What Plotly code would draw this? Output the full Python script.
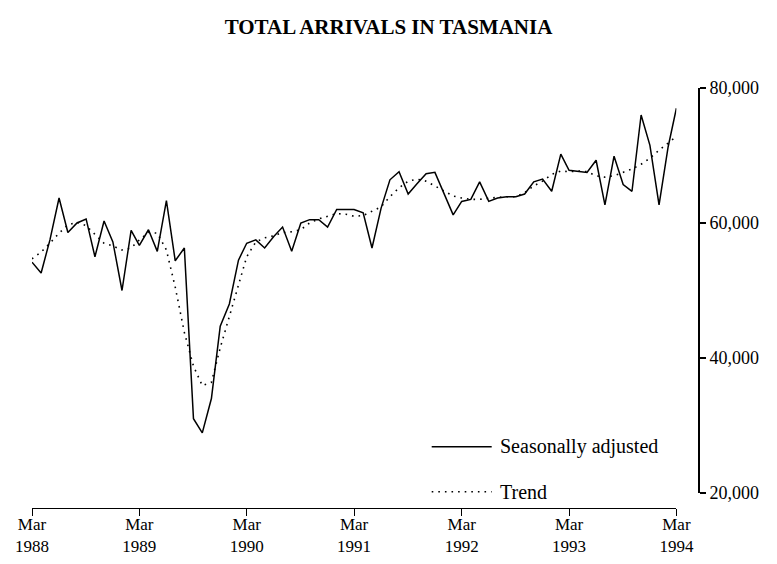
import pandas as pd
import plotly.graph_objects as go

# ---- data ----
months = pd.date_range("1988-03-01", periods=73, freq="MS")

seasonally_adjusted = [
    54200, 52600, 57500, 63700, 58600, 60000, 60600, 55000, 60300, 57200,
    50000, 58900, 56700, 59000, 55800, 63300, 54400, 56300, 31000, 28900,
    34000, 44700, 48000, 54500, 57000, 57500, 56300, 58000, 59400, 55800,
    60000, 60500, 60500, 59400, 62000, 62000, 62000, 61500, 56300, 62200,
    66400, 67600, 64300, 65800, 67300, 67500, 64300, 61200, 63200, 63500,
    66100, 63200, 63700, 63900, 63900, 64300, 66100, 66500, 64700, 70200,
    67800, 67700, 67500, 69300, 62700, 69900, 65700, 64700, 76000, 71500,
    62700, 71300, 77000,
]

trend = [
    54700, 55700, 57000, 58500, 59700, 60100, 59600, 58300, 57000, 56600,
    56000, 56300, 57500, 58600, 58500, 56000, 50500, 43800, 38800, 35900,
    36400, 41500, 46000, 50800, 55000, 57200, 57800, 58100, 58600, 58700,
    59000, 60000, 60600, 61000, 61400, 61300, 61000, 61100, 61700, 62400,
    63900, 65200, 66200, 66500, 66200, 65500, 64700, 64000, 63700, 63500,
    63500, 63700, 63800, 63900, 63900, 64500, 65500, 66200, 67200, 67700,
    67600, 67700, 67600, 67000, 66800, 67000, 67500, 68000, 68700, 69600,
    70800, 71800, 72800,
]

tick_dates = ["1988-03-01", "1989-03-01", "1990-03-01", "1991-03-01",
              "1992-03-01", "1993-03-01", "1994-03-01"]
tick_labels = ["Mar<br>1988", "Mar<br>1989", "Mar<br>1990", "Mar<br>1991",
               "Mar<br>1992", "Mar<br>1993", "Mar<br>1994"]
y_ticks = [20000, 40000, 60000, 80000]

series_names = ["Seasonally adjusted", "Trend"]

SERIF = "Liberation Serif, Times New Roman, serif"

fig = go.Figure()
fig.add_trace(go.Scatter(
    x=months, y=seasonally_adjusted, mode="lines", name=series_names[0],
    line=dict(color="black", width=1.5), showlegend=False,
))
fig.add_trace(go.Scatter(
    x=months, y=trend, mode="lines", name=series_names[1],
    line=dict(color="black", width=1.6, dash="1.6px,5px"), showlegend=False,
))

# plot-area geometry (pixels)
L, R, T, B = 32.3, 699.3, 88.0, 508.3
W, H = R - L, B - T
x_end = (676.7 - L) / W
y_start = (B - 493.3) / H

def px(x):
    return (x - L) / W

def py(y):
    return (B - y) / H

# legend drawn as sample lines + text
legend_rows = [(447, "solid"), (492, "1.6px,5px")]
for (yy, dash), name in zip(legend_rows, series_names):
    fig.add_shape(type="line", xref="paper", yref="paper",
                  x0=px(432), x1=px(492), y0=py(yy), y1=py(yy),
                  line=dict(color="black", width=1.5 if dash == "solid" else 1.6, dash=dash))
    fig.add_annotation(xref="paper", yref="paper", x=px(498), y=py(yy),
                       xanchor="left", yanchor="middle", showarrow=False,
                       text=name, font=dict(family=SERIF, size=20, color="black"))

fig.update_layout(
    width=777, height=564,
    autosize=False,
    margin=dict(l=L, r=777 - R, t=T, b=564 - B, pad=0, autoexpand=False),
    paper_bgcolor="white", plot_bgcolor="white",
    title=dict(text="<b>TOTAL ARRIVALS IN TASMANIA</b>", xref="container", x=0.5,
               xanchor="center", yref="container", y=1 - 27 / 564, yanchor="middle",
               font=dict(family=SERIF, size=21, color="black")),
    xaxis=dict(
        domain=[0, x_end], anchor="free", position=0, automargin=False,
        range=[months[0], months[-1]],
        tickmode="array", tickvals=tick_dates, ticktext=tick_labels,
        ticks="outside", ticklen=7, tickwidth=1.3, tickcolor="black",
        ticklabelstandoff=-7,
        showline=True, linecolor="black", linewidth=1.3,
        showgrid=False, zeroline=False,
        tickfont=dict(family=SERIF, size=17, color="black"),
    ),
    yaxis=dict(
        domain=[y_start, 1], anchor="free", position=1, side="right", automargin=False,
        range=[20000, 80000],
        tickmode="array", tickvals=y_ticks, tickformat=",d",
        ticks="outside", ticklen=6, tickwidth=1.5, tickcolor="black",
        showline=True, linecolor="black", linewidth=2,
        showgrid=False, zeroline=False,
        tickfont=dict(family=SERIF, size=18, color="black"),
    ),
)

fig.write_html("out.html",
               config={"displayModeBar": False, "responsive": False},
               post_script="document.body.style.margin='0px';document.body.style.overflow='hidden';")
